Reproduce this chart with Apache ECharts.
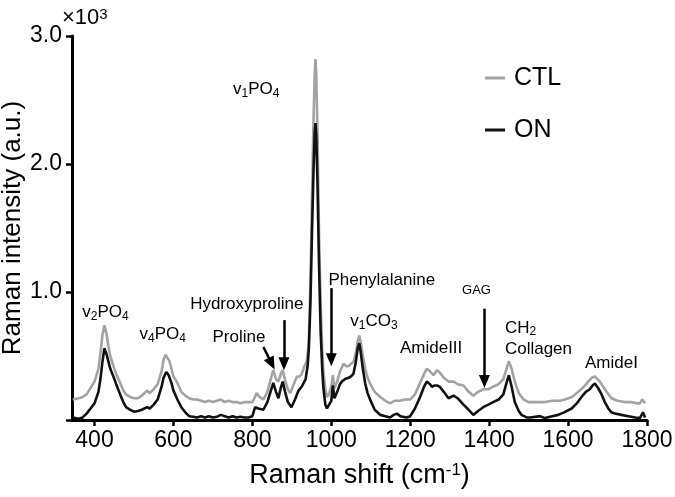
<!DOCTYPE html>
<html>
<head>
<meta charset="utf-8">
<script src="https://cdn.jsdelivr.net/npm/echarts@6/dist/echarts.min.js"></script>
<style>html,body{margin:0;padding:0;background:#fff}#c{width:675px;height:497px}</style>
</head>
<body>
<div id="c"></div>
<script>
// CTL spectrum (Raman shift cm-1, intensity x10^3 a.u.)
var ctlShift = [345,350,360,370,380,390,400,410,415,420,425,430,435,440,448,455,465,473,480,490,500,510,520,533,540,550,560,570,575,580,585,590,595,600,610,620,630,640,650,660,670,680,690,700,710,720,730,740,750,760,770,780,790,800,805,811,818,828,838,845,853,860,866,872,877,883,890,896,905,913,920,925,932,938,943,947,951,955,958,960,962,965,969,973,977,980,985,989,994,1000,1004,1008,1015,1022,1031,1038,1044,1050,1056,1062,1067,1071,1075,1080,1086,1092,1099,1110,1124,1137,1149,1160,1174,1186,1200,1212,1225,1235,1242,1250,1259,1268,1275,1285,1297,1310,1320,1335,1348,1360,1372,1385,1398,1410,1424,1436,1444,1450,1457,1465,1475,1487,1500,1521,1541,1560,1580,1592,1610,1626,1640,1651,1660,1668,1678,1689,1700,1710,1725,1744,1760,1775,1782,1788,1795];
var ctlIntensity = [0.16,0.17,0.17,0.18,0.20,0.25,0.30,0.40,0.52,0.66,0.74,0.68,0.58,0.50,0.42,0.36,0.29,0.23,0.20,0.18,0.17,0.17,0.19,0.23,0.21,0.24,0.28,0.38,0.47,0.51,0.50,0.46,0.40,0.34,0.29,0.22,0.19,0.17,0.16,0.16,0.15,0.14,0.15,0.14,0.15,0.16,0.14,0.15,0.14,0.14,0.13,0.14,0.14,0.14,0.17,0.21,0.18,0.16,0.22,0.30,0.39,0.32,0.30,0.36,0.39,0.31,0.24,0.21,0.28,0.34,0.34,0.36,0.42,0.46,0.60,1.05,1.70,2.35,2.70,2.82,2.70,2.25,1.45,0.90,0.55,0.38,0.24,0.18,0.20,0.26,0.35,0.25,0.30,0.38,0.44,0.42,0.42,0.44,0.45,0.52,0.62,0.66,0.60,0.50,0.40,0.33,0.28,0.22,0.18,0.15,0.13,0.15,0.15,0.16,0.16,0.20,0.29,0.36,0.40,0.38,0.35,0.39,0.37,0.33,0.30,0.30,0.28,0.27,0.22,0.19,0.22,0.24,0.24,0.26,0.28,0.32,0.40,0.46,0.40,0.30,0.21,0.16,0.14,0.14,0.14,0.15,0.15,0.16,0.18,0.22,0.26,0.30,0.33,0.34,0.31,0.26,0.21,0.17,0.15,0.14,0.14,0.13,0.13,0.16,0.13];
// ON spectrum
var onShift = [345,350,360,370,380,390,400,410,415,420,425,430,435,440,448,455,465,473,480,490,500,510,520,533,540,550,560,570,575,582,588,595,600,610,620,630,640,650,660,670,680,690,700,710,720,730,740,750,760,770,780,790,800,807,815,828,838,845,853,860,866,872,877,883,890,899,908,917,925,929,935,940,943,947,951,955,958,960,962,965,969,973,977,980,985,989,993,1000,1004,1008,1015,1022,1027,1035,1044,1050,1056,1062,1067,1071,1075,1080,1086,1092,1099,1110,1124,1137,1149,1158,1166,1175,1191,1200,1212,1225,1235,1242,1250,1255,1262,1268,1275,1285,1297,1310,1320,1335,1348,1360,1372,1385,1398,1410,1424,1436,1444,1450,1457,1465,1475,1482,1495,1504,1529,1541,1560,1575,1590,1609,1622,1634,1645,1655,1662,1668,1676,1685,1693,1702,1710,1719,1735,1753,1770,1782,1790,1795];
var onIntensity = [0.02,0.02,0.01,0.02,0.05,0.09,0.13,0.22,0.32,0.45,0.56,0.52,0.46,0.40,0.34,0.28,0.20,0.14,0.10,0.08,0.065,0.07,0.08,0.10,0.09,0.12,0.16,0.26,0.33,0.375,0.35,0.29,0.23,0.16,0.10,0.06,0.03,0.025,0.02,0.03,0.02,0.03,0.02,0.025,0.04,0.03,0.02,0.03,0.02,0.025,0.02,0.02,0.03,0.10,0.09,0.08,0.14,0.21,0.29,0.22,0.17,0.25,0.30,0.22,0.14,0.10,0.16,0.23,0.26,0.27,0.32,0.42,0.55,0.90,1.45,1.95,2.25,2.32,2.22,1.85,1.20,0.70,0.40,0.25,0.12,0.09,0.08,0.15,0.27,0.17,0.22,0.28,0.30,0.32,0.33,0.34,0.36,0.45,0.56,0.60,0.52,0.40,0.285,0.21,0.155,0.08,0.04,0.03,0.02,0.04,0.05,0.03,0.02,0.03,0.09,0.18,0.26,0.30,0.28,0.26,0.27,0.27,0.26,0.22,0.17,0.19,0.17,0.12,0.08,0.04,0.07,0.10,0.12,0.14,0.16,0.20,0.29,0.35,0.26,0.14,0.07,0.04,0.02,0.02,0.03,0.015,0.03,0.04,0.06,0.09,0.13,0.18,0.22,0.24,0.27,0.285,0.25,0.20,0.14,0.09,0.06,0.05,0.04,0.03,0.02,0.015,0.06,0.02];

var xTicks = [400,600,800,1000,1200,1400,1600,1800];

// Peak annotations (text, shift, intensity at text centre)
var annotText = ['v{s|1}PO{s|4}','v{s|2}PO{s|4}','v{s|4}PO{s|4}','Hydroxyproline','Proline','Phenylalanine','v{s|1}CO{s|3}','AmideIII','GAG','CH{s|2}','Collagen','AmideI'];
var annotX = [810,428,573,786,766,1128,1108,1253,1368,1440,1440,1710];
var annotY = [2.58,0.84,0.67,0.90,0.645,1.09,0.77,0.56,1.01,0.72,0.55,0.44];
var annotSize = [17,17,17,17,17,17,17,17,13,17,17,17];
var annotAlign = ['center','center','center','center','center','center','center','center','center','left','left','center'];

// Arrows: [fromShift, fromIntensity, toShift, toIntensity]
var arrowFromX = [880, 828, 1000, 1388];
var arrowFromY = [0.78, 0.57, 1.03, 0.87];
var arrowToX   = [880, 849, 1000, 1388];
var arrowToY   = [0.44, 0.44, 0.47, 0.30];

var FONT = '"Liberation Sans", Arial, Helvetica, sans-serif';

function zip(a, b) { return a.map(function (v, i) { return [v, b[i]]; }); }

var chart = echarts.init(document.getElementById('c'), null, {renderer: 'canvas'});

var annotData = annotText.map(function (t, i) {
  return {
    value: [annotX[i], annotY[i]],
    label: {
      formatter: t,
      fontSize: annotSize[i],
      align: annotAlign[i],
      color: '#000',
      rich: {s: {fontSize: Math.round(annotSize[i] * 0.68), verticalAlign: 'bottom', lineHeight: 8, fontFamily: FONT, color: '#000'}}
    }
  };
});

var arrowData = arrowFromX.map(function (x, i) {
  return [{coord: [x, arrowFromY[i]], symbol: 'none'}, {coord: [arrowToX[i], arrowToY[i]], symbol: 'triangle', symbolSize: [11, 13]}];
});

chart.setOption({
  animation: false,
  backgroundColor: '#fff',
  textStyle: {fontFamily: FONT, color: '#000'},
  grid: {left: 72, right: 28, top: 36, bottom: 77, containLabel: false, outerBoundsMode: 'none'},
  legend: {
    orient: 'vertical', left: 480, top: 60,
    icon: 'rect', itemWidth: 20, itemHeight: 3, itemGap: 26,
    textStyle: {fontSize: 25, color: '#000', fontFamily: FONT, padding: [0, 0, 0, 4], lineHeight: 26},
    data: ['CTL', 'ON']
  },
  graphic: [{
    type: 'text', left: 62, top: 7,
    style: {text: '×10{sup|3}', fontSize: 22, fontFamily: FONT, fill: '#000',
      rich: {sup: {fontSize: 15, verticalAlign: 'top', lineHeight: 10, fontFamily: FONT}}}
  }],
  xAxis: {
    type: 'value', min: 343, max: 1800,
    name: 'Raman shift (cm{sup|-1})', nameLocation: 'middle', nameGap: 42, nameMoveOverlap: false,
    nameTextStyle: {fontSize: 27, color: '#000', fontFamily: FONT,
      rich: {sup: {fontSize: 17, verticalAlign: 'top', lineHeight: 12, fontFamily: FONT}}},
    axisLine: {show: true, onZero: false, lineStyle: {color: '#000', width: 3}},
    axisTick: {show: true, length: 6, lineStyle: {color: '#000', width: 2.5}, customValues: xTicks},
    axisLabel: {fontSize: 23, color: '#000', margin: 9, customValues: xTicks,
      formatter: function (v) { return String(v); }},
    splitLine: {show: false}
  },
  yAxis: {
    type: 'value', min: 0, max: 3, interval: 1,
    name: 'Raman intensity (a.u.)', nameLocation: 'middle', nameGap: 46, nameMoveOverlap: false,
    nameTextStyle: {fontSize: 26, color: '#000', fontFamily: FONT},
    axisLine: {show: true, lineStyle: {color: '#000', width: 3}},
    axisTick: {show: true, length: 6, lineStyle: {color: '#000', width: 2.5}},
    axisLabel: {fontSize: 23, color: '#000', margin: 10,
      formatter: function (v) { return v === 0 ? '' : v.toFixed(1); }},
    splitLine: {show: false}
  },
  series: [
    {
      name: 'CTL', type: 'line', data: zip(ctlShift, ctlIntensity),
      showSymbol: false, symbol: 'none', smooth: false,
      lineStyle: {color: '#a3a3a3', width: 2.6}, itemStyle: {color: '#a3a3a3'}, z: 2
    },
    {
      name: 'ON', type: 'line', data: zip(onShift, onIntensity),
      showSymbol: false, symbol: 'none', smooth: false,
      lineStyle: {color: '#111', width: 2.6}, itemStyle: {color: '#111'}, z: 3,
      markLine: {
        silent: true, animation: false,
        symbol: ['none', 'triangle'], symbolSize: 13,
        lineStyle: {color: '#000', width: 2.5, type: 'solid', opacity: 1},
        itemStyle: {color: '#000'},
        label: {show: false}, emphasis: {disabled: true},
        data: arrowData
      }
    },
    {
      name: 'annotations', type: 'scatter', data: annotData, symbolSize: 0,
      silent: true, z: 5, itemStyle: {opacity: 1},
      label: {show: true, position: 'inside', color: '#000', opacity: 1, fontFamily: FONT, lineHeight: 20, verticalAlign: 'middle', textBorderWidth: 0}
    }
  ]
});
</script>
</body>
</html>
